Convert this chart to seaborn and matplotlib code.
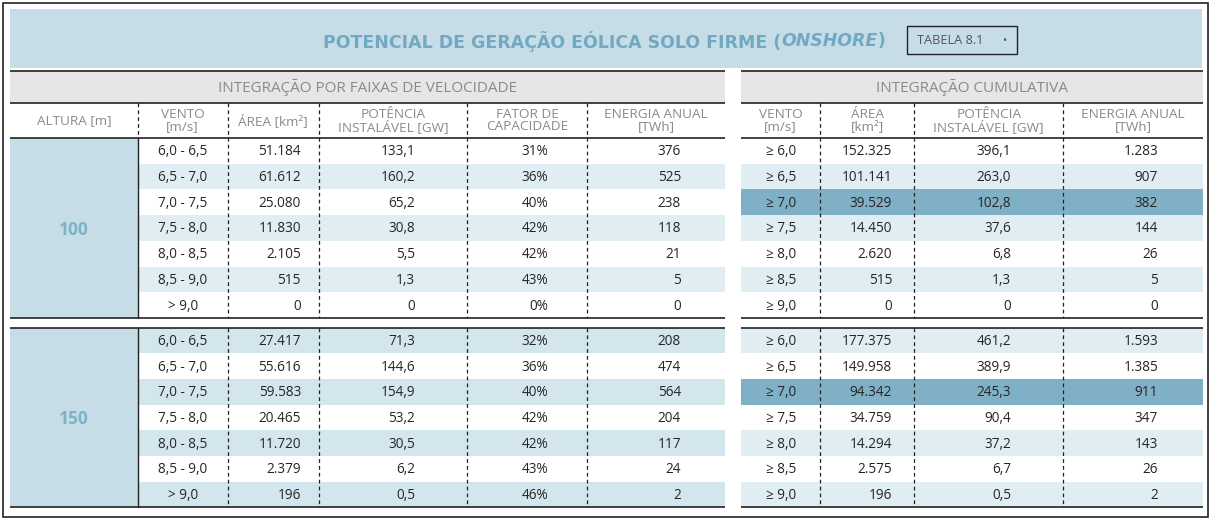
import numpy as np
import matplotlib
matplotlib.use("Agg")
import matplotlib.pyplot as plt
import seaborn as sns
from matplotlib.colors import ListedColormap
from matplotlib.patches import Rectangle

# ---------------- data ----------------
alturas = ["100", "150"]
vento_faixas = ["6,0 - 6,5", "6,5 - 7,0", "7,0 - 7,5", "7,5 - 8,0", "8,0 - 8,5", "8,5 - 9,0", "> 9,0"]
vento_cum = ["≥ 6,0", "≥ 6,5", "≥ 7,0", "≥ 7,5", "≥ 8,0", "≥ 8,5", "≥ 9,0"]

area_100 = [51184, 61612, 25080, 11830, 2105, 515, 0]
pot_100 = [133.1, 160.2, 65.2, 30.8, 5.5, 1.3, 0]
fc_100 = [31, 36, 40, 42, 42, 43, 0]
en_100 = [376, 525, 238, 118, 21, 5, 0]
area_cum_100 = [152325, 101141, 39529, 14450, 2620, 515, 0]
pot_cum_100 = [396.1, 263.0, 102.8, 37.6, 6.8, 1.3, 0]
en_cum_100 = [1283, 907, 382, 144, 26, 5, 0]

area_150 = [27417, 55616, 59583, 20465, 11720, 2379, 196]
pot_150 = [71.3, 144.6, 154.9, 53.2, 30.5, 6.2, 0.5]
fc_150 = [32, 36, 40, 42, 42, 43, 46]
en_150 = [208, 474, 564, 204, 117, 24, 2]
area_cum_150 = [177375, 149958, 94342, 34759, 14294, 2575, 196]
pot_cum_150 = [461.2, 389.9, 245.3, 90.4, 37.2, 6.7, 0.5]
en_cum_150 = [1593, 1385, 911, 347, 143, 26, 2]

# band codes: 0 white, 1 light, 2 light (stronger), 3 highlight
band_left_100 = [0, 1, 0, 1, 0, 1, 0]
band_right_100 = [0, 1, 3, 1, 0, 1, 0]
band_left_150 = [2, 0, 2, 0, 2, 0, 2]
band_right_150 = [1, 0, 3, 0, 1, 0, 1]

titulo = ["POTENCIAL DE GERAÇÃO EÓLICA SOLO FIRME (", "ONSHORE", ")"]
tabela = "TABELA 8.1"
sec_left = "INTEGRAÇÃO POR FAIXAS DE VELOCIDADE"
sec_right = "INTEGRAÇÃO CUMULATIVA"
hdr_left = ["ALTURA [m]", "VENTO\n[m/s]", "ÁREA [km²]", "POTÊNCIA\nINSTALÁVEL [GW]",
            "FATOR DE\nCAPACIDADE", "ENERGIA ANUAL\n[TWh]"]
hdr_right = ["VENTO\n[m/s]", "ÁREA\n[km²]", "POTÊNCIA\nINSTALÁVEL [GW]", "ENERGIA ANUAL\n[TWh]"]


def fmt_int(v):
    return f"{v:,.0f}".replace(",", ".")


def fmt_dec(v):
    if v == 0:
        return "0"
    return f"{v:,.1f}".replace(",", "X").replace(".", ",").replace("X", ".")


def fmt_pct(v):
    return f"{v:.0f}%"


# ---------------- style ----------------
sns.set_theme(style="white")
plt.rcParams['font.family'] = ['Open Sans', 'DejaVu Sans']

C_TITLE_BG = "#c6dde7"
C_GRAY = "#e6e6e6"
C_L1 = "#e0edf3"
C_L2 = "#d3e5ed"
C_HI = "#7fb0c6"
C_LINE = "#222222"
C_HDR = "#8a8a8a"
C_VAL = "#262626"
C_TITLE = "#72a9c2"
C_ALT = "#7db2c7"

W, H = 1213, 521
fig = plt.figure(figsize=(W / 100, H / 100), dpi=100)
fig.patch.set_facecolor("white")

ax = fig.add_axes([0, 0, 1, 1])
ax.set_xlim(0, W)
ax.set_ylim(H, 0)
ax.axis("off")
ax.set_zorder(5)
ax.patch.set_alpha(0)

band_cmap = ListedColormap(["#ffffff", C_L1, C_L2, C_HI])

# layout (pixels)
LX0, LX1 = 10, 725
RX0, RX1 = 741, 1203
Y_SEC0, Y_SEC1, Y_HDR1 = 71, 102.5, 138
ROW_H = 25.7
BLOCK_Y = [138, 327.5]
lcols = [LX0, 137.7, 227.7, 319, 466.7, 587.3, LX1]
rcols = [RX0, 820.3, 914.3, 1063.3, RX1]


def band(x0, x1, y0, y1, codes):
    bx = fig.add_axes([x0 / W, 1 - y1 / H, (x1 - x0) / W, (y1 - y0) / H])
    sns.heatmap(np.array(codes).reshape(-1, 1), cmap=band_cmap, vmin=-0.5, vmax=3.5,
                cbar=False, xticklabels=False, yticklabels=False, ax=bx, linewidths=0)
    bx.set_zorder(1)
    for s in bx.spines.values():
        s.set_visible(False)


# title band
ax.add_patch(Rectangle((10, 9), 1192, 59, facecolor=C_TITLE_BG, edgecolor="none"))
# outer frame
ax.add_patch(Rectangle((3, 3), 1205, 514, fill=False, edgecolor=C_LINE, lw=1.2))
# section header bands
ax.add_patch(Rectangle((LX0, Y_SEC0), LX1 - LX0, Y_SEC1 - Y_SEC0, facecolor=C_GRAY, edgecolor="none"))
ax.add_patch(Rectangle((RX0, Y_SEC0), RX1 - RX0, Y_SEC1 - Y_SEC0, facecolor=C_GRAY, edgecolor="none"))

# body bands via seaborn heatmaps
blocks = [
    (band_left_100, band_right_100),
    (band_left_150, band_right_150),
]
for by, (bl, br) in zip(BLOCK_Y, blocks):
    y1 = by + ROW_H * 7
    ax.add_patch(Rectangle((LX0, by), lcols[1] - LX0, y1 - by, facecolor=C_TITLE_BG, edgecolor="none"))
    band(lcols[1], LX1, by, y1, bl)
    band(RX0, RX1, by, y1, br)

# title with mixed style, fitted to the reference width
fig.canvas.draw()
r = fig.canvas.get_renderer()
tsize = 11.5
parts = []
for i, t in enumerate(titulo):
    tt = ax.text(0, 41, t, fontsize=tsize, fontweight="bold", color=C_TITLE,
                 style="italic" if i == 1 else "normal", va="center", ha="left",
                 family=["DejaVu Sans"])
    parts.append(tt)
total = sum(p.get_window_extent(renderer=r).width for p in parts)
tsize = tsize * 565.0 / total
for p in parts:
    p.set_fontsize(tsize)
widths = [p.get_window_extent(renderer=r).width for p in parts]
total = sum(widths)
x = 604.5 - total / 2
for p, w in zip(parts, widths):
    p.set_x(x)
    x += w

# TABELA box
ax.add_patch(Rectangle((907, 26), 110, 28, fill=False, edgecolor=C_LINE, lw=1.0))
ax.text(917, 41, tabela, fontsize=9.2, color="#555555", va="center", ha="left")
ax.text(1004, 41.5, "•", fontsize=8, color="#555555", va="center", ha="center")

# section titles
ax.text((LX0 + LX1) / 2, 87.5, sec_left, fontsize=11, color=C_HDR, ha="center", va="center")
ax.text((RX0 + RX1) / 2, 87.5, sec_right, fontsize=11, color=C_HDR, ha="center", va="center")

# column headers
hy = (Y_SEC1 + Y_HDR1) / 2 + 0.5
HS = 9.7
for i, h in enumerate(hdr_left):
    ax.text((lcols[i] + lcols[i + 1]) / 2, hy, h, fontsize=HS, color=C_HDR, ha="center",
            va="center", linespacing=0.92, multialignment="center")
for i, h in enumerate(hdr_right):
    ax.text((rcols[i] + rcols[i + 1]) / 2, hy, h, fontsize=HS, color=C_HDR, ha="center",
            va="center", linespacing=0.92, multialignment="center")

# horizontal lines
for xa, xb in [(LX0, LX1), (RX0, RX1)]:
    for yy in [Y_SEC0, Y_SEC1, Y_HDR1] + [BLOCK_Y[0] + 7 * ROW_H, BLOCK_Y[1], BLOCK_Y[1] + 7 * ROW_H]:
        ax.plot([xa, xb], [yy, yy], color=C_LINE, lw=1.2, solid_capstyle="butt")

# vertical lines
segs = [(Y_SEC1, BLOCK_Y[0] + 7 * ROW_H), (BLOCK_Y[1], BLOCK_Y[1] + 7 * ROW_H)]
for xv in lcols[2:-1] + rcols[1:-1]:
    for ya, yb in segs:
        ax.plot([xv, xv], [ya, yb], color=C_LINE, lw=0.9, linestyle=(0, (3, 2.5)))
# altura separator: dashed in header, solid in body
ax.plot([lcols[1], lcols[1]], [Y_SEC1, Y_HDR1], color=C_LINE, lw=0.9, linestyle=(0, (3, 2.5)))
for by in BLOCK_Y:
    ax.plot([lcols[1], lcols[1]], [by, by + 7 * ROW_H], color=C_LINE, lw=1.0)

# body values
data_blocks = [
    (area_100, pot_100, fc_100, en_100, area_cum_100, pot_cum_100, en_cum_100),
    (area_150, pot_150, fc_150, en_150, area_cum_150, pot_cum_150, en_cum_150),
]
VS = 9.8
for bi, (by, d) in enumerate(zip(BLOCK_Y, data_blocks)):
    area, pot, fc, en, acum, pcum, ecum = d
    ax.text((lcols[0] + lcols[1]) / 2, by + 3.5 * ROW_H + 2, alturas[bi], fontsize=12.5,
            fontweight="bold", color=C_ALT, ha="center", va="center")
    for i in range(7):
        yc = by + (i + 0.5) * ROW_H + 1
        kw = dict(fontsize=VS, color=C_VAL, va="center")
        ax.text((lcols[1] + lcols[2]) / 2, yc, vento_faixas[i], ha="center", **kw)
        ax.text(301, yc, fmt_int(area[i]), ha="right", **kw)
        ax.text(415, yc, fmt_dec(pot[i]), ha="right", **kw)
        ax.text(548, yc, fmt_pct(fc[i]), ha="right", **kw)
        ax.text(681, yc, fmt_int(en[i]), ha="right", **kw)
        ax.text((rcols[0] + rcols[1]) / 2, yc, vento_cum[i], ha="center", **kw)
        ax.text(892, yc, fmt_int(acum[i]), ha="right", **kw)
        ax.text(1011, yc, fmt_dec(pcum[i]), ha="right", **kw)
        ax.text(1158, yc, fmt_int(ecum[i]), ha="right", **kw)

fig.savefig("out.png", dpi=100, facecolor="white")
